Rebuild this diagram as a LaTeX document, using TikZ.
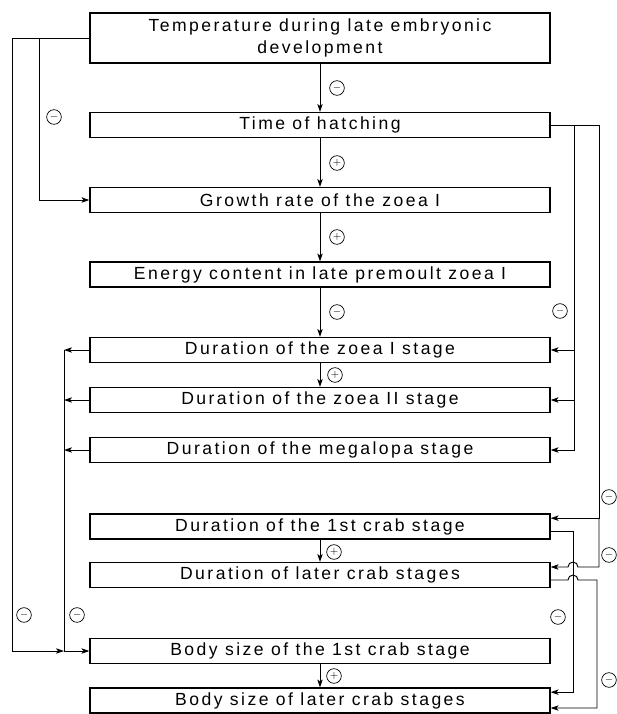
\documentclass[tikz,border=0pt]{standalone}
\usepackage{fontspec}
\setmainfont[LetterSpace=14]{Liberation Sans}
\usetikzlibrary{arrows.meta}

\begin{document}
\begin{tikzpicture}[
x=0.03cm, y=-0.03cm,
stage/.style={rectangle, draw=black, line width=0.9pt, minimum width=13.8cm, minimum height=0.75cm, inner sep=0pt, font=\fontsize{15}{19}\selectfont},
sign/.style={circle, draw=black, line width=0.6pt, minimum size=0.44cm, inner sep=0pt, font=\fontsize{9}{9}\selectfont},
link/.style={line width=0.8pt, -{Stealth[length=2.4mm, width=1.6mm, inset=0.6mm]}},
wire/.style={line width=0.8pt},
]
\useasboundingbox (0,0) rectangle (617,714);
% boxes
\node[stage, minimum height=1.5cm, align=center] (temp) at (320,38) {Temperature during late embryonic\\development};
\node[stage] (hatch) at (320,125) {Time of hatching};
\node[stage] (growth) at (320,200) {Growth rate of the zoea I};
\node[stage] (energy) at (320,274.5) {Energy content in late premoult zoea I};
\node[stage] (zoeaI) at (320,350) {Duration of the zoea I stage};
\node[stage] (zoeaII) at (320,400) {Duration of the zoea II stage};
\node[stage] (mega) at (320,450) {Duration of the megalopa stage};
\node[stage] (crabI) at (320,526.5) {Duration of the 1st crab stage};
\node[stage] (crabL) at (320,575) {Duration of later crab stages};
\node[stage] (bodyI) at (320,651) {Body size of the 1st crab stage};
\node[stage] (bodyL) at (320,700.5) {Body size of later crab stages};

% main chain
\draw[link] (temp) -- (hatch);
\draw[link] (hatch) -- (growth);
\draw[link] (growth) -- (energy);
\draw[link] (energy) -- (zoeaI);
\draw[link] (zoeaI) -- (zoeaII);
\draw[link] (crabI) -- (crabL);
\draw[link] (bodyI) -- (bodyL);
\node[sign] (s1) at (337,88) {$-$};
\node[sign] (s2) at (337,163) {$+$};
\node[sign] (s3) at (337,237) {$+$};
\node[sign] (s4) at (337,312) {$-$};
\node[sign] (s5) at (335,375) {$+$};
\node[sign] (s6) at (334,552) {$+$};
\node[sign] (s7) at (334,676) {$+$};

% left side
\coordinate (lt) at (39,38);
\coordinate (lo) at (12,651);
\coordinate (li) at (64,651);
\draw[link] (temp.west) -| (lo) -- (li);
\draw[link] (lt) |- (growth.west);
\draw[link] (zoeaI.west) -- (zoeaI.west -| li);
\draw[link] (zoeaII.west) -- (zoeaII.west -| li);
\draw[link] (mega.west) -- (mega.west -| li);
\draw[wire] (zoeaI.west -| li) -- (li);
\draw[link] (li) -- (bodyI.west);
\node[sign] (s8) at (54,117) {$-$};
\node[sign] (s9) at (24,615) {$-$};
\node[sign] (s10) at (77,615) {$-$};

% right side
\coordinate (ro) at (599,125);
\coordinate (ri) at (574,125);
\coordinate (rc) at (573,531);
\coordinate (rl) at (597,580);
\coordinate (crabIin) at ([yshift=2.5mm]crabI.east);
\coordinate (crabIout) at ([yshift=-1.35mm]crabI.east);
\coordinate (crabLin) at ([yshift=2.4mm]crabL.east);
\coordinate (crabLout) at ([yshift=-1.5mm]crabL.east);
\coordinate (bodyLinA) at ([yshift=2.5mm]bodyL.east);
\coordinate (bodyLinB) at ([yshift=-2.25mm]bodyL.east);
\draw[wire] (hatch.east) -- (ro);
\draw[link] (ri) |- (mega.east);
\draw[link] (ri |- zoeaI.east) -- (zoeaI.east);
\draw[link] (ri |- zoeaII.east) -- (zoeaII.east);
\draw[link] (ro) |- (crabIin);
\draw[link] (ro |- crabIin) -- (ro |- crabLin) -- ([xshift=1.5mm]rc |- crabLin) arc[start angle=0, end angle=180, radius=1.5mm] -- (crabLin);
\draw[link] (crabIout) -| (rc |- bodyLinA) -- (bodyLinA);
\draw[link] (crabLout) -- ([xshift=-1.5mm]rc |- crabLout) arc[start angle=180, end angle=0, radius=1.5mm] -- (rl |- crabLout) |- (bodyLinB);
\node[sign] (s11) at (560,311) {$-$};
\node[sign] (s12) at (609,497) {$-$};
\node[sign] (s13) at (609,555) {$-$};
\node[sign] (s14) at (609,680) {$-$};
\node[sign] (s15) at (558,617) {$-$};
\end{tikzpicture}
\end{document}
